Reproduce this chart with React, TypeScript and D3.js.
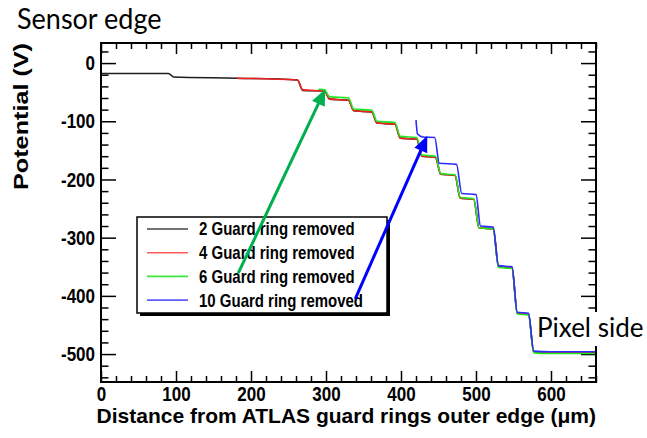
import { useRef, useEffect } from 'react'
import * as d3 from 'd3'

const W = 647
const H = 438

// distance from guard rings outer edge (um) and potential (V)
const gr2X = [0, 90, 97, 180, 262, 269, 298, 305, 330, 337, 361, 368, 392, 399, 421, 428, 446, 453, 472, 479, 497, 504, 523, 530, 548, 555, 570, 577, 600, 660]
const gr2Y = [-18, -18, -24, -26, -29, -47, -48, -62, -64, -82, -84, -103, -105, -129, -131, -160, -162, -191, -193, -232, -234, -283, -285, -350, -352, -430, -432, -497, -498, -498]

const gr4X = [181, 262, 269, 298, 305, 330, 337, 361, 368, 392, 399, 421, 428, 446, 453, 472, 479, 497, 504, 523, 530, 548, 555, 570, 577, 600, 660]
const gr4Y = [-26, -29, -46, -48, -62, -64, -82, -84, -103, -105, -129, -131, -160, -162, -191, -193, -232, -234, -283, -285, -349, -351, -429, -431, -496, -497, -497]

const gr6X = [290, 298, 305, 330, 337, 361, 368, 392, 399, 421, 428, 446, 453, 472, 479, 497, 504, 523, 530, 548, 555, 570, 577, 600, 660]
const gr6Y = [-45, -46, -58, -60, -79, -81, -100, -102, -126, -128, -158, -160, -190, -192, -231, -233, -283, -285, -351, -353, -431, -433, -498, -499, -499]

const gr10X = [420, 422, 429, 445, 451, 474, 481, 500, 506, 523, 530, 548, 555, 570, 577, 600, 660]
const gr10Y = [-98, -122, -127, -128, -172, -174, -224, -226, -280, -282, -348, -350, -428, -430, -495, -496, -496]

const seriesX = [gr2X, gr4X, gr6X, gr10X]
const seriesY = [gr2Y, gr4Y, gr6Y, gr10Y]
const seriesNames = ['2 Guard ring removed', '4 Guard ring removed', '6 Guard ring removed', '10 Guard ring removed']
const seriesColors = ['#1e1e1e', '#ee2020', '#22e622', '#2b2bff']
const legendColors = ['#444444', '#ff5c5c', '#3de63d', '#5c5cff']

const xMajor = [0, 100, 200, 300, 400, 500, 600]
const yMajor = [0, -100, -200, -300, -400, -500]

// annotation arrows, tail -> head, in data units
const arrowTailX = [183, 339]
const arrowTailY = [-361, -405]
const arrowHeadX = [299, 435]
const arrowHeadY = [-45, -125]
const arrowColors = ['#00b050', '#0000ff']

const App = () => {
  const svgRef = useRef<SVGSVGElement>(null)

  useEffect(() => {
    if (!svgRef.current) return
    const svg = d3.select(svgRef.current)
    svg.selectAll('*').remove()

    const left = 101, right = 596, top = 43, bottom = 382

    const x = d3.scaleLinear().domain([0, 660]).range([left, right])
    const y = d3.scaleLinear().domain([-548, 34.5]).range([bottom, top])

    svg.append('rect').attr('width', W).attr('height', H).attr('fill', '#fff')

    const xMinor = d3.range(0, 661, 20).filter(v => v % 100 !== 0)
    const yMinor = d3.range(20, -541, -20).filter(v => v % 100 !== 0)

    const font = "'Liberation Sans', Arial, sans-serif"
    // the source picture is a bit stretched vertically, so the text is too
    const styleAxis = (g: d3.Selection<SVGGElement, unknown, null, undefined>) => {
      g.select('.domain').remove()
      g.selectAll('line').attr('stroke', '#000').attr('stroke-width', 1.5)
      g.selectAll('text')
        .attr('font-family', font)
        .attr('font-weight', 'bold')
        .attr('font-size', 17)
        .attr('fill', '#000')
        .attr('transform', 'scale(1,1.22)')
    }

    // bottom
    svg.append('g').attr('transform', `translate(0,${bottom})`)
      .call(d3.axisBottom(x).tickValues(xMajor).tickSizeInner(-11).tickSizeOuter(0).tickPadding(3.5).tickFormat(d => String(d)))
      .call(styleAxis)
    svg.append('g').attr('transform', `translate(0,${bottom})`)
      .call(d3.axisBottom(x).tickValues(xMinor).tickSizeInner(-6).tickSizeOuter(0).tickFormat(() => ''))
      .call(styleAxis)
    // top
    svg.append('g').attr('transform', `translate(0,${top})`)
      .call(d3.axisTop(x).tickValues(xMajor).tickSizeInner(-11).tickSizeOuter(0).tickFormat(() => ''))
      .call(styleAxis)
    svg.append('g').attr('transform', `translate(0,${top})`)
      .call(d3.axisTop(x).tickValues(xMinor).tickSizeInner(-6).tickSizeOuter(0).tickFormat(() => ''))
      .call(styleAxis)
    // left
    svg.append('g').attr('transform', `translate(${left},0)`)
      .call(d3.axisLeft(y).tickValues(yMajor).tickSizeInner(-15).tickSizeOuter(0).tickPadding(6).tickFormat(d => String(d)))
      .call(styleAxis)
    svg.append('g').attr('transform', `translate(${left},0)`)
      .call(d3.axisLeft(y).tickValues(yMinor).tickSizeInner(-7.5).tickSizeOuter(0).tickFormat(() => ''))
      .call(styleAxis)
    // right
    svg.append('g').attr('transform', `translate(${right},0)`)
      .call(d3.axisRight(y).tickValues(yMajor).tickSizeInner(-15).tickSizeOuter(0).tickFormat(() => ''))
      .call(styleAxis)
    svg.append('g').attr('transform', `translate(${right},0)`)
      .call(d3.axisRight(y).tickValues(yMinor).tickSizeInner(-7.5).tickSizeOuter(0).tickFormat(() => ''))
      .call(styleAxis)

    // curves
    seriesX.forEach((xs, i) => {
      const pts = xs.map((v, j) => [v, seriesY[i][j]] as [number, number])
      const line = d3.line<[number, number]>()
        .x(d => x(d[0]))
        .y(d => y(d[1]))
        .curve(d3.curveMonotoneX)
      svg.append('path')
        .datum(pts)
        .attr('fill', 'none')
        .attr('stroke', seriesColors[i])
        .attr('stroke-width', 1.6)
        .attr('d', line)
    })

    // frame
    svg.append('rect')
      .attr('x', left).attr('y', top)
      .attr('width', right - left).attr('height', bottom - top)
      .attr('fill', 'none').attr('stroke', '#000').attr('stroke-width', 2)

    // axis titles
    svg.append('text')
      .attr('x', right).attr('y', 423)
      .attr('text-anchor', 'end')
      .attr('font-family', font).attr('font-weight', 'bold').attr('font-size', 21)
      .text('Distance from ATLAS guard rings outer edge (\u03bcm)')

    svg.append('text')
      .attr('transform', `translate(28,${top}) rotate(-90) scale(1.2,1)`)
      .attr('text-anchor', 'end')
      .attr('font-family', font).attr('font-weight', 'bold').attr('font-size', 21)
      .text('Potential (V)')

    // legend
    const lg = { x: 137, y: 217, w: 250, h: 96 }
    svg.append('rect').attr('x', lg.x + 3).attr('y', lg.y + 3).attr('width', lg.w).attr('height', lg.h).attr('fill', '#000')
    svg.append('rect').attr('x', lg.x).attr('y', lg.y).attr('width', lg.w).attr('height', lg.h)
      .attr('fill', '#fff').attr('stroke', '#000').attr('stroke-width', 1.5)
    seriesNames.forEach((name, i) => {
      const ry = 229 + i * 23.7
      svg.append('line').attr('x1', 147).attr('x2', 188).attr('y1', ry).attr('y2', ry)
        .attr('stroke', legendColors[i]).attr('stroke-width', 1.6)
      svg.append('text').attr('transform', `translate(199,${ry}) scale(1,1.2)`).attr('dy', '0.36em')
        .attr('font-family', font).attr('font-weight', 'bold').attr('font-size', 15)
        .text(name)
    })

    // arrows
    arrowTailX.forEach((tx, i) => {
      const x1 = x(tx), y1 = y(arrowTailY[i])
      const x2 = x(arrowHeadX[i]), y2 = y(arrowHeadY[i])
      const len = Math.hypot(x2 - x1, y2 - y1)
      const ux = (x2 - x1) / len, uy = (y2 - y1) / len
      const headLen = 16, headHalf = 7
      const bx = x2 - ux * headLen, by = y2 - uy * headLen
      svg.append('line').attr('x1', x1).attr('y1', y1).attr('x2', bx + ux * 2).attr('y2', by + uy * 2)
        .attr('stroke', arrowColors[i]).attr('stroke-width', 3)
      svg.append('polygon')
        .attr('points', [[x2, y2], [bx - uy * headHalf, by + ux * headHalf], [bx + uy * headHalf, by - ux * headHalf]].map(p => p.join(',')).join(' '))
        .attr('fill', arrowColors[i])
    })

    // slide annotations
    svg.append('text').attr('transform', 'translate(17,29) scale(1,1.08)')
      .attr('font-family', 'Lato, sans-serif').attr('font-size', 27).attr('fill', '#000')
      .text('Sensor edge')
    svg.append('rect').attr('x', 535).attr('y', 312).attr('width', 112).attr('height', 34).attr('fill', '#fff')
    svg.append('text').attr('x', 537).attr('y', 337)
      .attr('font-family', 'Lato, sans-serif').attr('font-size', 26).attr('fill', '#000')
      .text('Pixel side')
  }, [])

  return (
    <div style={{ position: 'absolute', left: 0, top: 0 }}>
      <svg ref={svgRef} width={W} height={H} style={{ display: 'block' }} />
    </div>
  )
}

export default App
